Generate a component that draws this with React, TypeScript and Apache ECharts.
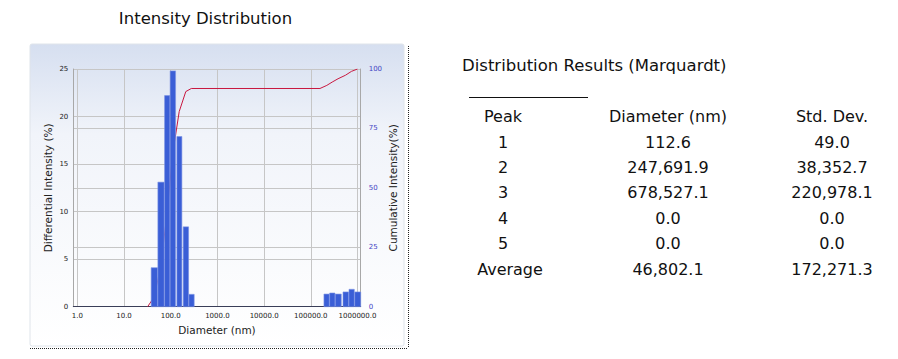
import React, { useEffect, useRef } from 'react';
import * as echarts from 'echarts';

// Histogram bins (diameter in nm) and differential intensity (%)
const binLow = [38.1, 53.1, 73.9, 97.3, 135.5, 185, 245, 191000, 253000, 334000, 489000, 657000, 871000];
const binHigh = [52.3, 72.4, 95.9, 127, 173.4, 241.5, 318, 248000, 329000, 449000, 647000, 853000, 1170000];
const binIntensity = [4.1, 13.1, 22.2, 24.8, 17.9, 8.4, 1.3, 1.33, 1.44, 1.33, 1.55, 1.83, 1.55];

// Cumulative intensity curve
const cumDiameter = [32, 44.3, 61.4, 83.3, 110, 152, 210, 276, 157000, 220000, 287000, 383000, 555000, 741000, 1000000];
const cumIntensity = [0, 4.1, 17.2, 39.4, 64.2, 82.1, 90.5, 91.8, 91.8, 93.1, 94.5, 95.9, 97.4, 99.0, 100];

// Axis ticks
const leftTicks = [0, 5, 10, 15, 20, 25];
const rightTicks = [0, 25, 50, 75, 100];

// Results table
const tableTitle = 'Distribution Results (Marquardt)';
const tableHeaders = ['Peak', 'Diameter (nm)', 'Std. Dev.'];
const peakLabels = ['1', '2', '3', '4', '5', 'Average'];
const peakDiameters = ['112.6', '247,691.9', '678,527.1', '0.0', '0.0', '46,802.1'];
const peakStdDevs = ['49.0', '38,352.7', '220,978.1', '0.0', '0.0', '172,271.3'];

const FONT = 'DejaVu Sans';

export default function App() {
  const ref = useRef<HTMLDivElement>(null);
  useEffect(() => {
    if (!ref.current) return;
    const chart = echarts.init(ref.current, undefined, { renderer: 'svg' });
    const isPow = (v: number) => {
      const l = Math.log10(v);
      return Math.abs(l - Math.round(l)) < 1e-6;
    };
    const histData = binLow.map((lo, i) => [lo, binHigh[i], binIntensity[i]]);
    const cumData = cumDiameter.map((d, i) => [d, cumIntensity[i]]);

    const colX = [503, 668, 832];
    const rowY0 = 116.7;
    const rowStep = 25.4;
    const tableTexts: any[] = [];
    tableHeaders.forEach((h, i) => {
      tableTexts.push({ type: 'text', x: colX[i], y: rowY0, style: { text: h, font: `16px "${FONT}"`, fill: '#111', align: 'center', verticalAlign: 'middle' } });
    });
    peakLabels.forEach((p, r) => {
      const y = rowY0 + rowStep * (r + 1);
      const isAvg = r === peakLabels.length - 1;
      tableTexts.push({ type: 'text', x: isAvg ? 510 : colX[0], y, style: { text: p, font: `16px "${FONT}"`, fill: '#111', align: 'center', verticalAlign: 'middle' } });
      tableTexts.push({ type: 'text', x: colX[1], y, style: { text: peakDiameters[r], font: `16px "${FONT}"`, fill: '#111', align: 'center', verticalAlign: 'middle' } });
      tableTexts.push({ type: 'text', x: colX[2], y, style: { text: peakStdDevs[r], font: `16px "${FONT}"`, fill: '#111', align: 'center', verticalAlign: 'middle' } });
    });

    chart.setOption({
      animation: false,
      textStyle: { fontFamily: FONT },
      grid: { left: 73.3, right: 537.3, top: 69, bottom: 52.3, containLabel: false },
      graphic: [
        {
          type: 'rect', z: -100, silent: true,
          shape: { x: 30, y: 44, width: 374, height: 302, r: 2 },
          style: {
            fill: { type: 'linear', x: 0, y: 0, x2: 0, y2: 1, colorStops: [
              { offset: 0, color: '#d6dff0' }, { offset: 0.3, color: '#f1f4fa' }, { offset: 1, color: '#ffffff' }] },
            stroke: '#dfe4ea', lineWidth: 1,
          },
        },
        { type: 'line', z: -50, shape: { x1: 408.5, y1: 46, x2: 408.5, y2: 348 }, style: { stroke: '#222', lineWidth: 1, lineDash: [1, 1] } },
        { type: 'line', z: -50, shape: { x1: 30, y1: 348.5, x2: 408, y2: 348.5 }, style: { stroke: '#222', lineWidth: 1, lineDash: [1, 1] } },
        { type: 'text', x: 205.5, y: 18, style: { text: 'Intensity Distribution', font: `16.5px "${FONT}"`, fill: '#111', align: 'center', verticalAlign: 'middle' } },
        { type: 'text', x: 462, y: 65, style: { text: tableTitle, font: `16.5px "${FONT}"`, fill: '#111', align: 'left', verticalAlign: 'middle' } },
        { type: 'line', shape: { x1: 469, y1: 97.5, x2: 588, y2: 97.5 }, style: { stroke: '#111', lineWidth: 1 } },
        ...tableTexts,
      ],
      xAxis: {
        type: 'log', logBase: 10, min: 0.82, max: 1170000,
        axisLine: { show: true, lineStyle: { color: '#3a3e58', width: 1 } },
        axisTick: { show: false },
        axisLabel: {
          fontSize: 7, color: '#222', margin: 6, fontFamily: FONT,
          formatter: (v: number) => (isPow(v) ? Number(Math.pow(10, Math.round(Math.log10(v)))).toFixed(1) : ''),
        },
        splitLine: { show: true, lineStyle: { color: '#c6c6c6', width: 1 } },
        name: 'Diameter (nm)', nameLocation: 'middle', nameGap: 18,
        nameTextStyle: { fontSize: 10.5, color: '#222', fontFamily: FONT },
      },
      yAxis: [
        {
          type: 'value', min: leftTicks[0], max: leftTicks[leftTicks.length - 1], interval: 5,
          axisLine: { show: true, lineStyle: { color: '#a8a8a8' } },
          axisTick: { show: false },
          axisLabel: { fontSize: 7, color: '#222', margin: 5, fontFamily: FONT },
          splitLine: { show: true, lineStyle: { color: '#c6c6c6' } },
          name: 'Differential Intensity (%)', nameLocation: 'middle', nameRotate: 90, nameGap: 20,
          nameTextStyle: { fontSize: 10.5, color: '#222', fontFamily: FONT },
        },
        {
          type: 'value', min: rightTicks[0], max: rightTicks[rightTicks.length - 1], interval: 25, position: 'right',
          axisLine: { show: true, lineStyle: { color: '#a8a8a8' } },
          axisTick: { show: false },
          axisLabel: { fontSize: 7, color: '#4444c4', margin: 8, fontFamily: FONT },
          splitLine: { show: true, lineStyle: { color: '#c6c6c6' } },
          name: 'Cumulative Intensity(%)', nameLocation: 'middle', nameRotate: 90, nameGap: 27,
          nameTextStyle: { fontSize: 10.5, color: '#222', fontFamily: FONT },
        },
      ],
      series: [
        {
          type: 'line', name: 'Cumulative', yAxisIndex: 1, data: cumData, z: 1,
          symbol: 'none', lineStyle: { color: '#c8173f', width: 1 }, silent: true,
        },
        {
          type: 'custom', name: 'Differential', yAxisIndex: 0, data: histData, z: 3,
          encode: { x: [0, 1], y: 2 }, clip: false,
          renderItem: (params: any, api: any) => {
            const lo = api.value(0), hi = api.value(1), v = api.value(2);
            const p0 = api.coord([lo, v]);
            const p1 = api.coord([hi, 0]);
            return {
              type: 'rect',
              shape: { x: p0[0], y: p0[1], width: p1[0] - p0[0], height: p1[1] - p0[1] },
              style: { fill: '#3a5ed6', stroke: '#7b92e4', lineWidth: 0.6 },
            };
          },
        },
      ],
    });
    return () => chart.dispose();
  }, []);
  return <div ref={ref} style={{ position: 'absolute', left: 0, top: 0, width: 898, height: 359 }} />;
}
